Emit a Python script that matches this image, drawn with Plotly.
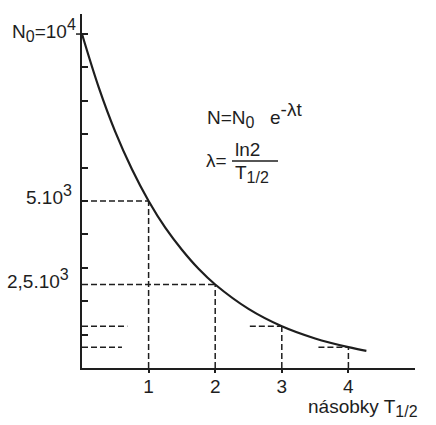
import plotly.graph_objects as go

# data
t_curve = [0, 0.25, 0.5, 0.75, 1.0, 1.25, 1.5, 1.75, 2.0, 2.5, 3.0, 3.5, 4.0, 4.27]
n_curve = [10000, 8410, 7070, 5950, 5000, 4200, 3540, 2970, 2500, 1770, 1250, 885, 625, 515]
half_t = [1, 2, 3, 4]
half_n = [5000, 2500, 1250, 625]
hdash_start = [0, 0, 2.52, 3.55]
left_n = [1250, 625]
left_end = [0.68, 0.6]
x_ticks = [1, 2, 3, 4]
x_labels = ["1", "2", "3", "4"]
y_ticks = [1000, 2000, 3000, 4000, 5000, 6000, 7000, 8000, 9000, 10000]

INK = "#1e1e1e"
FONT = "Liberation Sans"

L, R, T, B = 82, 21, 14, 57
W, H = 436, 425
PW, PH = W - L - R, H - T - B


def px(x):
    return (x - L) / PW


def py(y):
    return (H - B - y) / PH


fig = go.Figure()

fig.add_trace(go.Scatter(x=t_curve, y=n_curve, mode="lines",
                         line=dict(color=INK, width=2.2, shape="spline"),
                         hoverinfo="skip", cliponaxis=False))

dash = "6px,3px"
for t, n, s in zip(half_t, half_n, hdash_start):
    fig.add_trace(go.Scatter(x=[s, t], y=[n, n], mode="lines",
                             line=dict(color=INK, width=1.5, dash=dash), hoverinfo="skip"))
    fig.add_trace(go.Scatter(x=[t, t], y=[0, n], mode="lines",
                             line=dict(color=INK, width=1.5, dash=dash), hoverinfo="skip"))
for n, e in zip(left_n, left_end):
    fig.add_trace(go.Scatter(x=[0, e], y=[n, n], mode="lines",
                             line=dict(color=INK, width=1.5, dash=dash), hoverinfo="skip"))

fig.update_layout(
    width=W, height=H, margin=dict(l=L, r=R, t=T, b=B),
    paper_bgcolor="white", plot_bgcolor="white", showlegend=False,
    xaxis=dict(range=[0, 5.0], showgrid=False, zeroline=False, showline=True,
               linecolor=INK, linewidth=2.2, ticks="outside", ticklen=3,
               tickwidth=1.5, tickcolor=INK, tickvals=x_ticks, ticktext=x_labels,
               ticklabelstandoff=-3,
               tickfont=dict(family=FONT, size=19, color=INK)),
    yaxis=dict(range=[0, 10600], showgrid=False, zeroline=False, showline=True,
               linecolor=INK, linewidth=2.2, ticks="inside", ticklen=6,
               tickwidth=1.5, tickcolor=INK, tickvals=y_ticks, showticklabels=False),
)

# cross mark at N0 (left part)
fig.add_shape(type="line", xref="paper", yref="y", x0=px(76), x1=px(82),
              y0=10000, y1=10000, line=dict(color=INK, width=1.5))

ann = dict(showarrow=False, xref="paper", yref="paper",
           font=dict(family=FONT, size=19, color=INK))
SUP = "<sup><span style='font-size:16px'>%s</span></sup>"
SUB = "<sub><span style='font-size:16px'>%s</span></sub>"
fig.add_annotation(x=px(78), y=py(30), xanchor="right", yanchor="middle",
                   text="N" + SUB % "0" + "=10" + SUP % "4", **ann)
fig.add_annotation(x=px(74), y=py(195), xanchor="right", yanchor="middle",
                   text="5.10" + SUP % "3", **ann)
fig.add_annotation(x=px(71), y=py(279), xanchor="right", yanchor="middle",
                   text="2,5.10" + SUP % "3", **ann)
fig.add_annotation(x=px(306), y=py(408), xanchor="left", yanchor="middle",
                   text="násobky T" + SUB % "1/2", **ann)
fig.add_annotation(x=px(205), y=py(119), xanchor="left", yanchor="middle",
                   text="N=N" + SUB % "0", **ann)
fig.add_annotation(x=px(268), y=py(113), xanchor="left", yanchor="middle",
                   text="e<sup><span style='font-size:19px'>-λt</span></sup>", **ann)
fig.add_annotation(x=px(204), y=py(160), xanchor="left", yanchor="middle",
                   text="λ=", **ann)
fig.add_annotation(x=px(233), y=py(149), xanchor="left", yanchor="middle",
                   text="ln2", **ann)
fig.add_annotation(x=px(233), y=py(174), xanchor="left", yanchor="middle",
                   text="T" + SUB % "1/2", **ann)
fig.add_shape(type="line", xref="paper", yref="paper", x0=px(232), x1=px(278),
              y0=py(161), y1=py(161), line=dict(color=INK, width=1.5))

fig.write_html("out.html")
